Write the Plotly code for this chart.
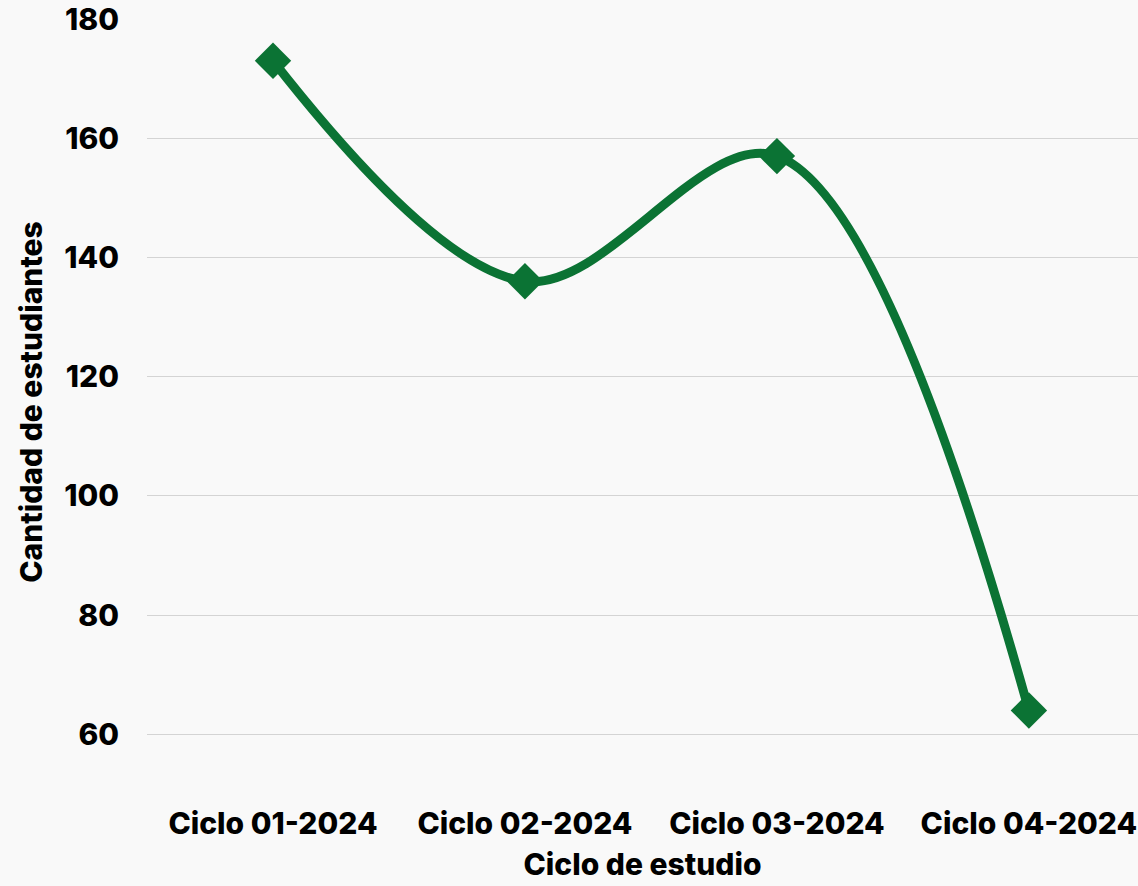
import plotly.graph_objects as go

categories = ["Ciclo 01-2024", "Ciclo 02-2024", "Ciclo 03-2024", "Ciclo 04-2024"]
students = [173, 136, 157, 64]
y_ticks = [60, 80, 100, 120, 140, 160, 180]

FONT = "Inter"
GREEN = "#0b7334"
BG = "#f9f9f9"
FS = 30
W = 800

fig = go.Figure()
fig.add_trace(go.Scatter(
    x=categories, y=students, mode="lines+markers",
    line=dict(color=GREEN, width=9, shape="spline", smoothing=1),
    marker=dict(symbol="diamond", size=28, color=GREEN),
    showlegend=False,
))

fig.update_layout(
    width=1138, height=886,
    paper_bgcolor=BG, plot_bgcolor=BG,
    margin=dict(l=147, r=0, t=19, b=101),
    font=dict(family=FONT, size=FS, color="#000000", weight=W),
    xaxis=dict(
        type="category", range=[-0.5, 3.433],
        showgrid=False, zeroline=False, showline=False,
        ticks="", ticklabelstandoff=18,
        tickfont=dict(family=FONT, size=FS, weight=W),
        title=dict(text="Ciclo de estudio", standoff=13,
                   font=dict(family=FONT, size=FS, weight=W)),
    ),
    yaxis=dict(
        range=[51.5, 180], tickvals=y_ticks,
        showgrid=True, gridcolor="#d4d4d4", gridwidth=1,
        zeroline=False, showline=False, ticks="",
        ticklabelstandoff=27,
        tickfont=dict(family=FONT, size=FS, weight=W),
        title=dict(text="Cantidad de estudiantes", standoff=12,
                   font=dict(family=FONT, size=FS, weight=W)),
    ),
)

fig.write_html(
    "out.html",
    config={"displayModeBar": False},
    post_script="document.body.style.margin='0';document.body.style.background='#f9f9f9';",
)
